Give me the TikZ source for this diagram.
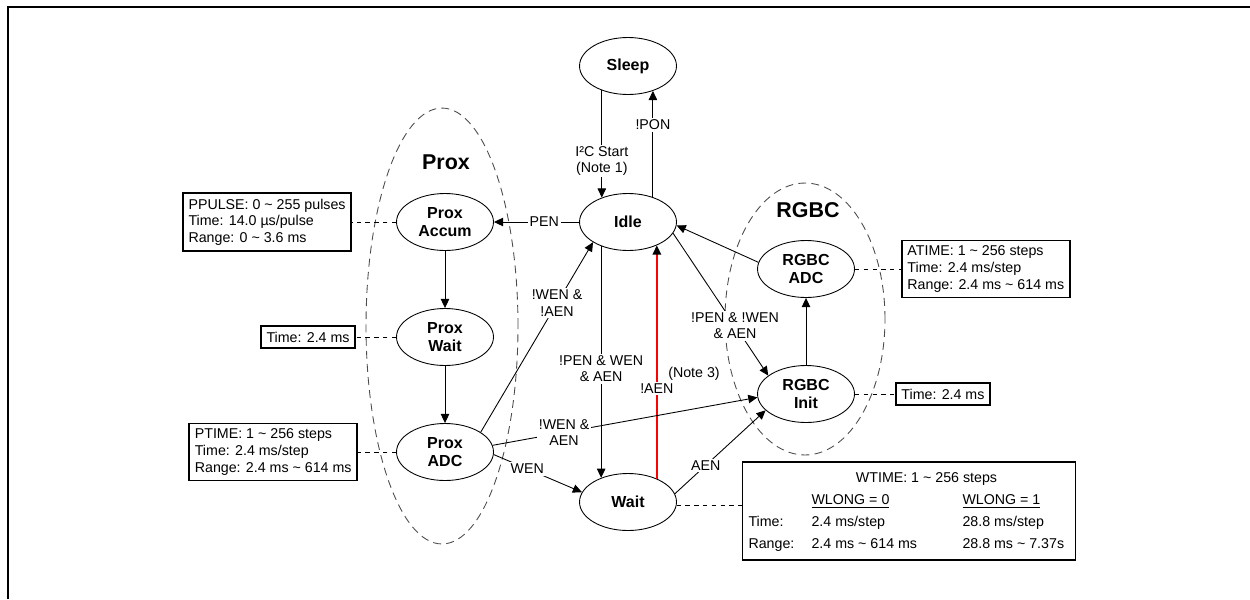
\documentclass[tikz,border=0pt]{standalone}
\usepackage{fontspec}
\setmainfont{Liberation Sans}
\usetikzlibrary{positioning,arrows.meta,shapes.geometric}
\tikzset{%
    state/.style={ellipse, draw, line width=0.5pt, minimum width=1.94cm, minimum height=1.14cm, inner sep=0pt, align=center, font=\bfseries\fontsize{9.1}{10.2}\selectfont},
    group/.style={ellipse, draw=black!70, line width=0.5pt, dash pattern=on 4.5pt off 3pt, inner sep=0pt},
    grouptitle/.style={font=\bfseries\fontsize{12.2}{14}\selectfont},
    note/.style={draw, line width=1pt, align=left, inner sep=3.2pt, font=\fontsize{8.1}{9.4}\selectfont},
    trans/.style={line width=0.5pt, -{Triangle[length=5.2pt,width=4.8pt]}},
    redtrans/.style={line width=1pt, draw=red, -{Triangle[length=5.2pt,width=4.8pt,black]}},
    lbl/.style={fill=white, inner sep=1pt, align=center, font=\fontsize{8.1}{9.2}\selectfont},
    link/.style={line width=0.5pt, dash pattern=on 2.5pt off 2.5pt},
}

\begin{document}
\begin{tikzpicture}[x=0.02cm, y=-0.02cm]
    \useasboundingbox (0,0) rectangle (1250,599);
    % frame
    \draw[line width=1.5pt] (8,599) -- (8,7) -- (1250,7);

    % groups
    \node[group, minimum width=3.04cm, minimum height=8.72cm] (proxgrp) at (442,326) {};
    \node[group, minimum width=3.2cm, minimum height=5.44cm] (rgbcgrp) at (805,319) {};
    \node[grouptitle] (proxtitle) at (446,162) {Prox};
    \node[grouptitle] (rgbctitle) at (808,210) {RGBC};

    % states
    \node[state] (sleep) at (628,66) {Sleep};
    \node[state] (idle) at (628,222) {Idle};
    \node[state] (paccum) at (445,222) {Prox\\Accum};
    \node[state] (pwait) at (445,337) {Prox\\Wait};
    \node[state] (padc) at (445,452) {Prox\\ADC};
    \node[state] (wait) at (628,502) {Wait};
    \node[state] (radc) at (806,269) {RGBC\\ADC};
    \node[state] (rinit) at (806,394) {RGBC\\Init};

    % notes
    \node[note, left=0.88cm of paccum] (ppulse) {PPULSE: 0 \textasciitilde{} 255 pulses\\Time: 14.0 µs/pulse\\Range: 0 \textasciitilde{} 3.6 ms};
    \node[note, left=0.8cm of pwait] (pwaittime) {Time: 2.4 ms};
    \node[note, left=0.76cm of padc] (ptime) {PTIME: 1 \textasciitilde{} 256 steps\\Time: 2.4 ms/step\\Range: 2.4 ms \textasciitilde{} 614 ms};
    \node[note, right=0.92cm of radc] (atime) {ATIME: 1 \textasciitilde{} 256 steps\\Time: 2.4 ms/step\\Range: 2.4 ms \textasciitilde{} 614 ms};
    \node[note, right=0.8cm of rinit] (rinittime) {Time: 2.4 ms};
    \node[note, inner xsep=3.4pt, font=\fontsize{8.1}{12.4}\selectfont] (wtime) at (909,511) {%
        \begin{tabular}{@{}p{1.26cm}@{}p{3.02cm}@{}p{2.14cm}@{}}
            \multicolumn{3}{c}{\hspace{0.7cm}WTIME: 1 \textasciitilde{} 256 steps}\\
            & \underline{WLONG = 0} & \underline{WLONG = 1}\\
            Time: & 2.4 ms/step & 28.8 ms/step\\
            Range: & 2.4 ms \textasciitilde{} 614 ms & 28.8 ms \textasciitilde{} 7.37s
        \end{tabular}};

    % transitions
    \draw[trans] (sleep.-137.2) -- node[lbl, pos=0.66] {I²C Start\\(Note 1)} (idle.137.2);
    \draw[trans] (idle.45.9) -- node[lbl, pos=0.68] {!PON} (sleep.-45.9);
    \draw[trans] (idle.west) -- node[lbl, pos=0.41] {PEN} (paccum.east);
    \draw[trans] (paccum) -- (pwait);
    \draw[trans] (pwait) -- (padc);
    \draw[trans] (padc.29) -- node[lbl, pos=0.68] {!WEN \&\\!AEN} (idle.210);
    \draw[trans] (idle.-138.7) -- node[lbl, pos=0.53] {!PEN \& WEN\\\& AEN} (wait.138.7);
    \draw[redtrans] (wait.39) -- node[lbl, pos=0.385] {!AEN} node[lbl, fill=none, pos=0.45, right=5pt] {(Note 3)} (idle.-39);
    \draw[trans] (idle.-14) -- node[lbl, pos=0.65] {!PEN \& !WEN\\\& AEN} (rinit.154);
    \draw[trans] (radc.172) -- (idle.-4);
    \draw[trans] (rinit) -- (radc);
    \draw[trans] (padc.8) -- node[lbl, pos=0.27] {!WEN \&\\AEN} (rinit.184);
    \draw[trans] (padc.-3) -- node[lbl, pos=0.38] {WEN} (wait.168);
    \draw[trans] (wait.10) -- node[lbl, pos=0.34] {AEN} (rinit.202);

    % links to notes
    \draw[link] (paccum.west) -- (ppulse.east);
    \draw[link] (pwait.west) -- (pwaittime.east);
    \draw[link] (padc.west) -- (ptime.east);
    \draw[link] (radc.east) -- (atime.west);
    \draw[link] (rinit.east) -- (rinittime.west);
    \draw[link] (wait.-4) -- (wait.-4 -| wtime.west);
\end{tikzpicture}
\end{document}
